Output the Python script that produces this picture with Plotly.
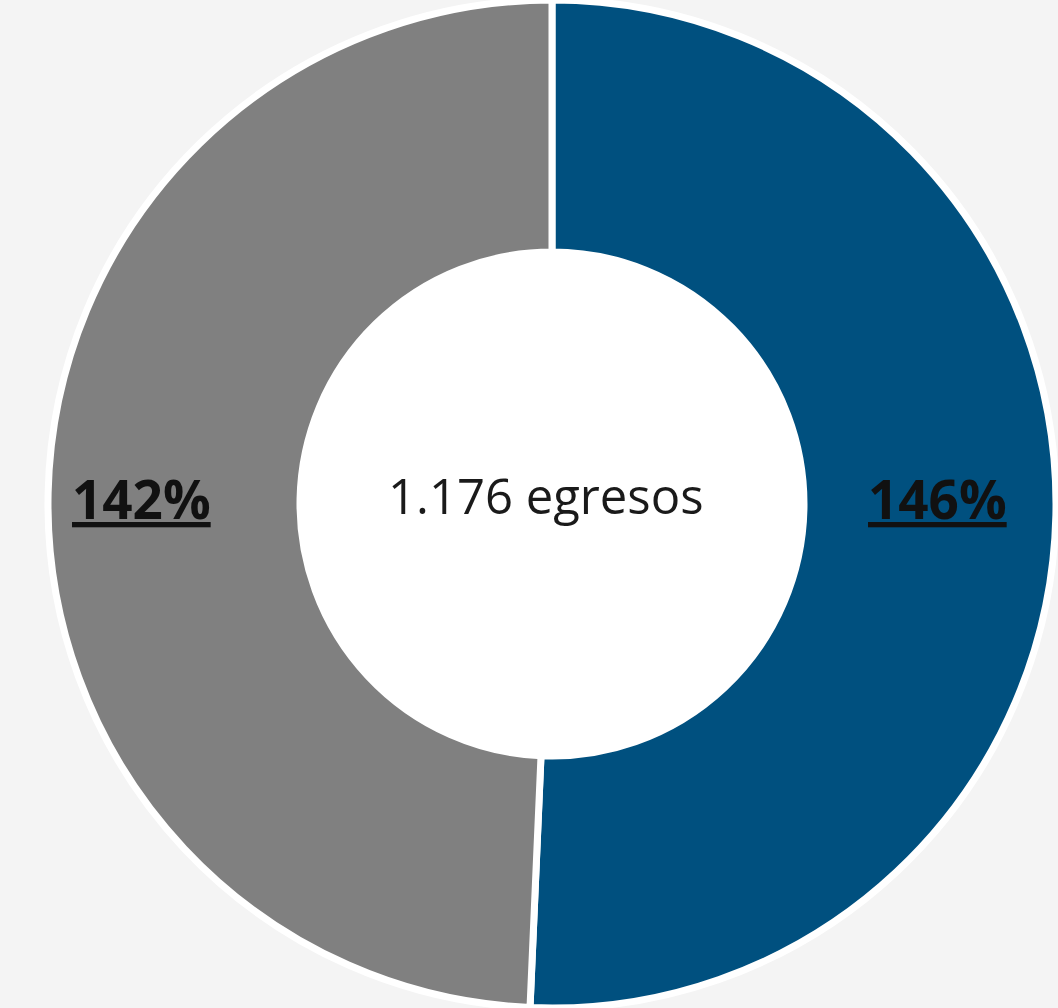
import plotly.graph_objects as go

# Share of egresos by group (labels show the stated percentages)
categories = ["Grupo A", "Grupo B"]
values = [146, 142]
colors = ["#00507f", "#808080"]
total_label = "1.176 egresos"

W, H = 1058, 1008
cx, cy, r = 552, 504, 504  # donut centre and outer radius in pixels
hole = 0.5

fig = go.Figure(
    go.Pie(
        labels=categories,
        values=values,
        hole=hole,
        sort=False,
        direction="clockwise",
        rotation=0,
        marker=dict(colors=colors, line=dict(color="white", width=7)),
        textinfo="none",
        hoverinfo="label+value",
        showlegend=False,
        domain=dict(x=[(cx - r) / W, (cx + r) / W], y=[0, 1]),
    )
)

# White disc filling the centre of the ring
hr = r * hole
fig.add_shape(
    type="circle", xref="paper", yref="paper",
    x0=(cx - hr) / W, x1=(cx + hr) / W,
    y0=1 - (cy + hr) / H, y1=1 - (cy - hr) / H,
    fillcolor="white", line=dict(width=0), layer="below",
)

# Percentage labels, one on each ring segment
label_pos = [(937, 498), (141, 498)]
annotations = []
for v, (px, py) in zip(values, label_pos):
    annotations.append(
        dict(
            x=px / W, y=1 - py / H, xref="paper", yref="paper",
            text=f"<b><u>{v}%</u></b>",
            showarrow=False,
            font=dict(family="Open Sans", size=53, color="#111111"),
            xanchor="center", yanchor="middle",
        )
    )

# Centre caption
annotations.append(
    dict(
        x=546 / W, y=1 - 495 / H, xref="paper", yref="paper",
        text=total_label,
        showarrow=False,
        font=dict(family="Open Sans", size=49, color="#1a1a1a"),
        xanchor="center", yanchor="middle",
    )
)

fig.update_layout(
    width=W,
    height=H,
    margin=dict(l=0, r=0, t=0, b=0),
    paper_bgcolor="#f4f4f4",
    plot_bgcolor="#f4f4f4",
    annotations=annotations,
)

fig.write_html("out.html")
